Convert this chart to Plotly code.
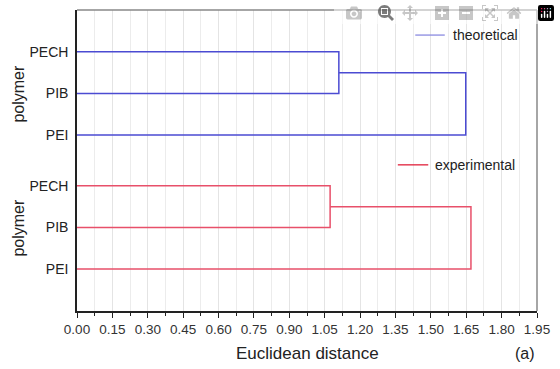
import plotly.graph_objects as go

# ---- data ----
leaf_labels = ["PECH", "PIB", "PEI"]
groups = ["theoretical", "experimental"]
# merge heights (Euclidean distance): [PECH+PIB, (PECH,PIB)+PEI]
theoretical_merges = [1.11, 1.648]
experimental_merges = [1.073, 1.670]
x_ticks = [0.00, 0.15, 0.30, 0.45, 0.60, 0.75, 0.90, 1.05, 1.20, 1.35, 1.50, 1.65, 1.80, 1.95]
x_tick_labels = ["0.00", "0.15", "0.30", "0.45", "0.60", "0.75", "0.90", "1.05",
                 "1.20", "1.35", "1.50", "1.65", "1.80", "1.95"]

colors = {"theoretical": "#4b4bd2", "experimental": "#e8506a"}
legend_colors = {"theoretical": "#8a8ae0", "experimental": "#e0203a"}
offsets = {"theoretical": 4.19, "experimental": 1.0}   # y of PEI leaf in each block
spacing = 0.99


def dendro(merges, base):
    y_pei = base
    y_pib = base + spacing
    y_pech = base + 2 * spacing
    y_mid = (y_pib + y_pech) / 2
    m1, m2 = merges
    xs = [0, m1, m1, 0, None, m1, m2, m2, 0]
    ys = [y_pech, y_pech, y_pib, y_pib, None, y_mid, y_mid, y_pei, y_pei]
    return xs, ys, [y_pei, y_pib, y_pech]


fig = go.Figure()
tickvals, ticktext = [], []
for g, merges in zip(groups, [theoretical_merges, experimental_merges]):
    xs, ys, leaf_y = dendro(merges, offsets[g])
    fig.add_trace(go.Scatter(x=xs, y=ys, mode="lines",
                             line=dict(color=colors[g], width=1.5),
                             showlegend=False, hoverinfo="skip"))
    tickvals += leaf_y
    ticktext += ["PEI", "PIB", "PECH"]

tick_font = dict(family="Liberation Sans, Arial, sans-serif", size=13.5, color="#333")

fig.update_layout(
    width=560, height=369,
    margin=dict(l=77, r=14, t=10, b=58),
    paper_bgcolor="white", plot_bgcolor="white",
    font=dict(family="Liberation Sans, Arial, sans-serif", color="#222"),
    xaxis=dict(range=[0, 1.95], tickvals=x_ticks, ticktext=x_tick_labels,
               showline=True, linecolor="#222", linewidth=1.5,
               ticks="outside", ticklen=5, tickcolor="#222", tickwidth=1.2,
               ticklabeloverflow="allow",
               tickfont=tick_font,
               showgrid=True, gridcolor="#e4e4e4", gridwidth=1,
               minor=dict(dtick=0.075, tick0=0, showgrid=True, gridcolor="#ececec",
                          ticks="outside", ticklen=3, tickcolor="#222"),
               zeroline=False, fixedrange=True),
    yaxis=dict(range=[0, 7.167], tickvals=tickvals, ticktext=ticktext,
               showline=True, linecolor="#222", linewidth=1.5,
               ticks="", showgrid=False, zeroline=False,
               tickfont=dict(size=14, color="#222"), ticklabelstandoff=4),
)

# top and right frame lines (grey)
fig.add_shape(type="line", xref="paper", yref="paper", x0=0, x1=1, y0=1, y1=1,
              line=dict(color="#888", width=1.5))
fig.add_shape(type="line", xref="paper", yref="paper", x0=1, x1=1, y0=0, y1=1,
              line=dict(color="#888", width=1.5))

# in-plot legends
legend_pos = {"theoretical": (1.434, 1.559, 1.585, 6.57),
              "experimental": (1.36, 1.489, 1.51, 3.48)}
for g in groups:
    x0, x1, xt, yl = legend_pos[g]
    fig.add_shape(type="line", xref="x", yref="y", x0=x0, x1=x1, y0=yl, y1=yl,
                  line=dict(color=legend_colors[g], width=1.3))
    fig.add_annotation(x=xt, y=yl, xref="x", yref="y", text=g, showarrow=False,
                       xanchor="left", yanchor="middle", font=dict(size=14, color="#222"))

# y-axis titles
for g in groups:
    ymid = offsets[g] + spacing
    fig.add_annotation(x=-60 / 469, y=ymid, xref="paper", yref="y", text="polymer",
                       textangle=-90, showarrow=False, xanchor="center", yanchor="middle",
                       font=dict(size=16, color="#222"))

fig.add_annotation(x=0.5, y=-42 / 301, xref="paper", yref="paper", text="Euclidean distance",
                   showarrow=False, xanchor="center", yanchor="middle",
                   font=dict(size=17, color="#222"))
fig.add_annotation(x=1.0, y=-42 / 301, xref="paper", yref="paper", text="(a)",
                   showarrow=False, xanchor="right", yanchor="middle",
                   font=dict(size=16, color="#222"))

# remove the default page margin so the 560x369 figure fills the window exactly
fig.write_html(
    "out.html",
    post_script="document.body.style.margin='0';"
                "document.documentElement.style.overflow='hidden';",
)
